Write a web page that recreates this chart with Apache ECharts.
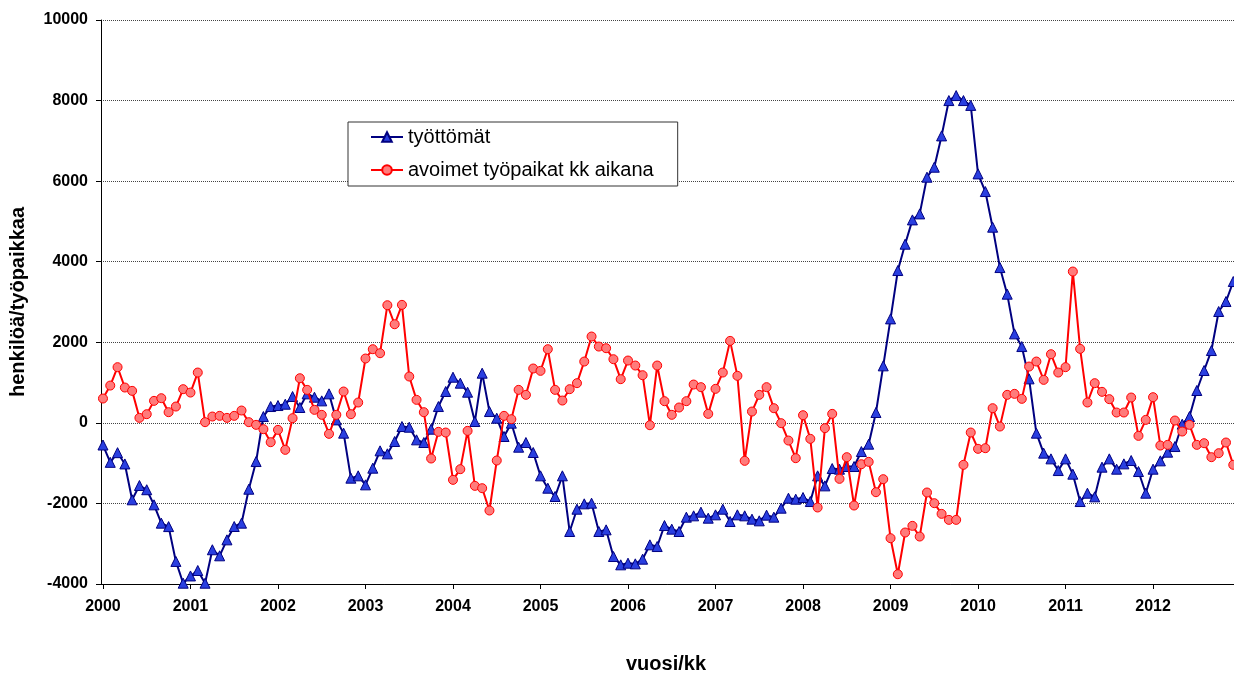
<!DOCTYPE html>
<html>
<head>
<meta charset="utf-8">
<script src="https://cdn.jsdelivr.net/npm/echarts@6/dist/echarts.min.js"></script>
<style>
html,body{margin:0;padding:0;background:#fff;}
#chart{width:1234px;height:677px;}
</style>
</head>
<body>
<div id="chart"></div>
<script>
// Year tick labels (one per January)
const yearLabels = ['2000','2001','2002','2003','2004','2005','2006','2007','2008','2009','2010','2011','2012'];
const seriesNames = ['työttömät', 'avoimet työpaikat kk aikana'];
const yTicks = [-4000,-2000,0,2000,4000,6000,8000,10000];

// työttömät, monthly 2000/01 .. 2012/12
const tyottomat = [
 -550,-980,-740,-1020,-1910,-1555,-1660,-2035,-2490,-2575,-3440,-3980,
 -3800,-3665,-3980,-3150,-3300,-2904,-2573,-2490,-1647,-960,157,405,
 430,463,654,381,720,637,546,720,74,-256,-1373,-1315,
 -1539,-1125,-695,-769,-463,-91,-108,-422,-488,-157,405,778,
 1133,985,761,33,1233,281,116,-339,-8,-604,-488,-736,
 -1315,-1622,-1828,-1315,-2697,-2143,-2010,-1994,-2697,-2656,-3318,-3524,
 -3483,-3500,-3384,-3028,-3070,-2549,-2639,-2697,-2341,-2308,-2217,-2366,
 -2283,-2143,-2449,-2283,-2308,-2391,-2432,-2291,-2341,-2118,-1870,-1895,
 -1853,-1953,-1315,-1564,-1134,-1150,-1084,-1084,-712,-529,257,1415,
 2581,3781,4435,5038,5187,6098,6346,7123,8000,8124,8000,7880,
 6180,5742,4857,3855,3194,2209,1894,1092,-256,-752,-894,-1184,
 -894,-1274,-1953,-1746,-1836,-1100,-894,-1150,-1018,-935,-1208,-1746,
 -1150,-943,-728,-588,-33,157,803,1299,1795,2764,3012,3508
];

// avoimet työpaikat kk aikana, monthly 2000/01 .. 2012/12
const avoimet = [
 604,926,1382,877,794,124,215,546,612,265,405,836,
 752,1249,17,157,174,124,174,306,17,-50,-157,-480,
 -174,-670,116,1108,819,323,199,-273,199,778,215,505,
 1597,1828,1729,2920,2448,2929,1150,571,265,-885,-223,-240,
 -1415,-1150,-199,-1564,-1622,-2176,-935,174,91,819,695,1349,
 1291,1828,819,554,836,985,1522,2143,1894,1853,1580,1084,
 1547,1423,1183,-58,1423,538,199,381,538,951,886,223,
 844,1249,2035,1167,-943,281,695,886,364,-8,-439,-877,
 190,-397,-2101,-132,223,-1390,-852,-2052,-1026,-968,-1721,-1398,
 -2863,-3757,-2722,-2557,-2822,-1729,-1994,-2259,-2408,-2408,-1042,-240,
 -645,-629,364,-91,695,720,596,1398,1522,1067,1704,1249,
 1382,3756,1837,505,985,770,588,257,257,629,-323,74,
 637,-563,-546,58,-215,-50,-546,-505,-852,-753,-488,-1042
];

const yearTickIdx = yearLabels.map((y, k) => k * 12);
const toPairs = arr => arr.map((v, i) => [i, v]);

const chart = echarts.init(document.getElementById('chart'), null, {renderer: 'canvas'});
const FONT = 'Liberation Sans, Arial, sans-serif';

chart.setOption({
  animation: false,
  backgroundColor: '#ffffff',
  grid: {left: 101, top: 20, right: 0, bottom: 93, containLabel: false},
  xAxis: {
    type: 'value',
    min: -0.27,
    max: 155.1,
    axisLine: {show: true, onZero: false, lineStyle: {color: '#000', width: 1}},
    axisTick: {show: true, length: 5, inside: false, customValues: yearTickIdx, lineStyle: {color: '#000'}},
    axisLabel: {
      show: true, customValues: yearTickIdx, margin: 15,
      fontFamily: FONT, fontWeight: 'bold', fontSize: 16, color: '#000',
      formatter: v => yearLabels[Math.round(v / 12)] || ''
    },
    splitLine: {show: false}
  },
  yAxis: {
    type: 'value',
    min: -4000, max: 10000, interval: 2000,
    axisLine: {show: true, onZero: false, lineStyle: {color: '#000', width: 1}},
    axisTick: {show: true, length: 5, inside: false, lineStyle: {color: '#000'}},
    axisLabel: {margin: 13, fontFamily: FONT, fontWeight: 'bold', fontSize: 16, color: '#000',
      formatter: v => yTicks.includes(v) ? String(v) : ''},
    splitLine: {show: true, lineStyle: {color: '#444', type: [1, 1], width: 1}}
  },
  legend: {
    show: true,
    orient: 'vertical',
    left: 348, top: 122,
    padding: [5, 24, 6, 22],
    itemGap: 13,
    itemWidth: 32, itemHeight: 12,
    backgroundColor: '#fff',
    borderColor: '#333', borderWidth: 1,
    textStyle: {fontFamily: FONT, fontSize: 20, color: '#000'},
    data: seriesNames
  },
  series: [
    {
      name: seriesNames[0], type: 'line', data: toPairs(tyottomat),
      symbol: 'triangle', symbolSize: 10, showAllSymbol: true,
      lineStyle: {color: '#000080', width: 2},
      itemStyle: {color: '#2a3fe0', borderColor: '#000080', borderWidth: 1},
      z: 2
    },
    {
      name: seriesNames[1], type: 'line', data: toPairs(avoimet),
      symbol: 'circle', symbolSize: 9, showAllSymbol: true,
      lineStyle: {color: '#ff0000', width: 2},
      itemStyle: {color: '#ff7b7b', borderColor: '#ff0000', borderWidth: 1},
      z: 3
    }
  ],
  graphic: [
    {type: 'text', x: 18, y: 302, rotation: Math.PI / 2,
     style: {text: 'henkilöä/työpaikkaa', font: 'bold 20px ' + FONT, fill: '#000', align: 'center', verticalAlign: 'middle'}},
    {type: 'text', x: 666, y: 664,
     style: {text: 'vuosi/kk', font: 'bold 20px ' + FONT, fill: '#000', align: 'center', verticalAlign: 'middle'}}
  ]
});
</script>
</body>
</html>
